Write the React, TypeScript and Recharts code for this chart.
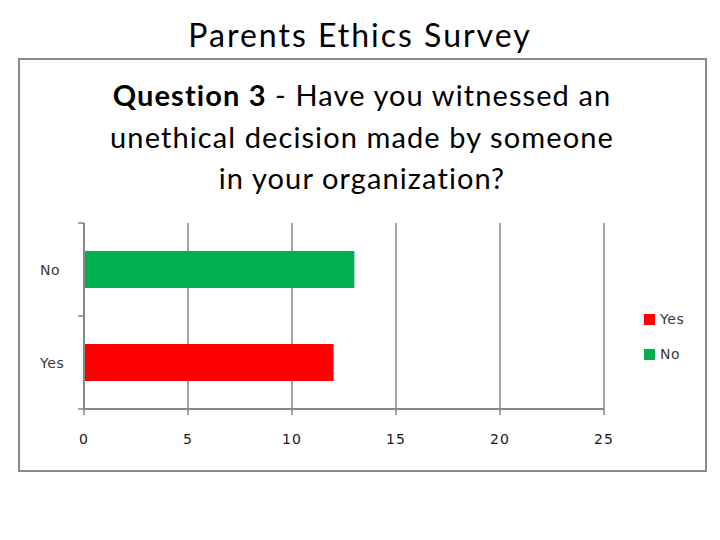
import React from "react";
import { BarChart, Bar, XAxis, YAxis, CartesianGrid, Cell } from "recharts";

const SLIDE_TITLE = "Parents Ethics Survey";
const QUESTION_BOLD = "Question 3";
const QUESTION_LINES = [
  " - Have you witnessed an",
  "unethical decision made by someone",
  "in your organization?",
];

// bottom to top (axis is reversed)
const categories = ["Yes", "No"];
const counts = [12, 13];
const barColors = ["#FF0000", "#00B050"];
const xTicks = [0, 5, 10, 15, 20, 25];

const TITLE_FONT = "Lato, 'Open Sans', sans-serif";
const AXIS_FONT = "'DejaVu Sans', Verdana, sans-serif";
const AXIS_GRAY = "#868686";

const CHART_W = 688;
const CHART_H = 413;
const PLOT_LEFT = 66;
const PLOT_TOP = 165;
const PLOT_BOTTOM = 351;

const data = categories.map((name, i) => ({ name, value: counts[i] }));

const bandHalf = (PLOT_BOTTOM - PLOT_TOP) / (categories.length * 2);

function CategoryTick(props: any) {
  const { y, payload, index } = props;
  return (
    <g>
      <text
        x={22}
        y={y}
        dy="0.36em"
        textAnchor="start"
        fontFamily={AXIS_FONT}
        fontSize={14}
        letterSpacing={0.6}
        fill="#3a3a3a"
      >
        {payload.value}
      </text>
      <line
        x1={PLOT_LEFT - 6}
        x2={PLOT_LEFT}
        y1={y - bandHalf}
        y2={y - bandHalf}
        stroke={AXIS_GRAY}
        strokeWidth={1.5}
      />
      {index === 0 && (
        <line
          x1={PLOT_LEFT - 6}
          x2={PLOT_LEFT}
          y1={y + bandHalf}
          y2={y + bandHalf}
          stroke={AXIS_GRAY}
          strokeWidth={1.5}
        />
      )}
    </g>
  );
}

export default function App() {
  return (
    <div
      style={{
        position: "absolute",
        left: 0,
        top: 0,
        width: 720,
        height: 540,
        background: "#fff",
        overflow: "hidden",
      }}
    >
      <div
        style={{
          position: "absolute",
          left: 0,
          top: 14,
          width: 720,
          textAlign: "center",
          fontFamily: TITLE_FONT,
          fontSize: 32,
          letterSpacing: 2,
          lineHeight: "42px",
          color: "#000",
        }}
      >
        {SLIDE_TITLE}
      </div>

      <div
        style={{
          position: "absolute",
          left: 18,
          top: 58,
          width: 689,
          height: 414,
          boxSizing: "border-box",
          border: "2px solid #8a8a8a",
        }}
      />

      <div
        style={{
          position: "absolute",
          left: 18,
          top: 74,
          width: 688,
          textAlign: "center",
          fontFamily: TITLE_FONT,
          fontSize: 29,
          letterSpacing: 1.1,
          lineHeight: "41.5px",
          color: "#000",
        }}
      >
        <div>
          <b>{QUESTION_BOLD}</b>
          {QUESTION_LINES[0]}
        </div>
        <div>{QUESTION_LINES[1]}</div>
        <div>{QUESTION_LINES[2]}</div>
      </div>

      <div style={{ position: "absolute", left: 18, top: 58 }}>
        <BarChart
          width={CHART_W}
          height={CHART_H}
          data={data}
          layout="vertical"
          barCategoryGap="30%"
          margin={{ top: PLOT_TOP, right: 102, bottom: 22, left: 0 }}
        >
          <CartesianGrid
            horizontal={false}
            vertical={true}
            stroke={AXIS_GRAY}
            strokeWidth={1.5}
          />
          <XAxis
            type="number"
            domain={[0, 25]}
            ticks={xTicks}
            interval={0}
            height={40}
            tickSize={6}
            tickMargin={19}
            axisLine={{ stroke: AXIS_GRAY, strokeWidth: 2 }}
            tickLine={{ stroke: AXIS_GRAY, strokeWidth: 1.5 }}
            tick={{ fontFamily: AXIS_FONT, fontSize: 14, letterSpacing: 1, fill: "#1a1a1a" }}
          />
          <YAxis
            type="category"
            dataKey="name"
            reversed
            width={PLOT_LEFT}
            tickLine={false}
            axisLine={{ stroke: AXIS_GRAY, strokeWidth: 2 }}
            tick={<CategoryTick />}
          />
          <Bar dataKey="value" isAnimationActive={false}>
            {data.map((d, i) => (
              <Cell key={d.name} fill={barColors[i]} />
            ))}
          </Bar>
        </BarChart>
      </div>

      <div
        style={{
          position: "absolute",
          left: 644,
          top: 309,
          fontFamily: AXIS_FONT,
          fontSize: 14,
          letterSpacing: 0.6,
          color: "#3a3a3a",
        }}
      >
        {categories.map((c, i) => (
          <div
            key={c}
            style={{ display: "flex", alignItems: "center", height: 20, marginBottom: i === 0 ? 15 : 0 }}
          >
            <span
              style={{
                display: "inline-block",
                width: 11,
                height: 11,
                background: barColors[i],
                marginRight: 5,
              }}
            />
            {c}
          </div>
        ))}
      </div>
    </div>
  );
}
